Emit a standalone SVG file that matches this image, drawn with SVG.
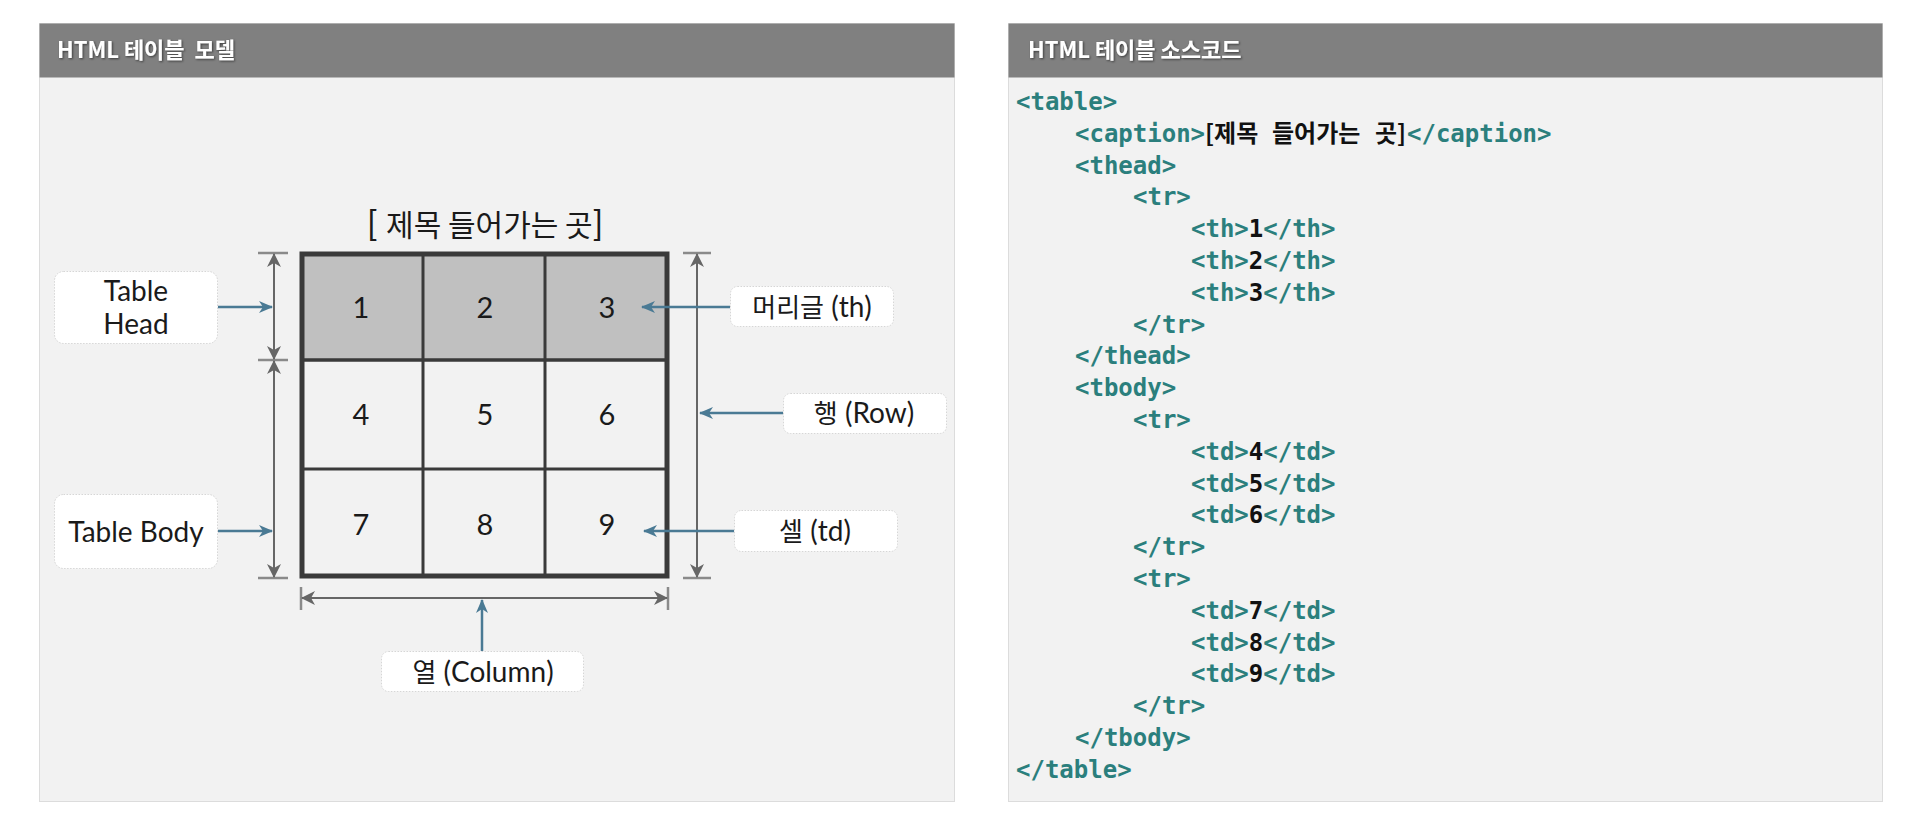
<svg xmlns="http://www.w3.org/2000/svg" width="1920" height="835" viewBox="0 0 1920 835">
<style>
.panel{fill:#f2f2f2;stroke:#dcdcdc;stroke-width:1}
.hdr{fill:#808080}
.htxt{font-family:"Noto Sans CJK KR","Noto Sans",sans-serif;font-weight:700;font-size:22px;fill:#ffffff}
.box{fill:#ffffff;stroke:#d6d6d6;stroke-width:1;stroke-dasharray:1.5 1.5}
.lbl{font-family:Lato,"Noto Sans CJK KR",sans-serif;font-size:28px;fill:#1a1a1a;text-anchor:middle}
.ko{font-family:"Noto Sans CJK KR",sans-serif;font-size:26px}
.num{font-family:Lato,"Noto Sans",sans-serif;font-size:29px;fill:#1a1a1a;text-anchor:middle}
.dim{stroke:#666666;stroke-width:2;fill:none}
.tick{stroke:#8a8a8a;stroke-width:2.5}
.blue{stroke:#4a7a94;stroke-width:2.5;fill:none}
.code{font-family:"DejaVu Sans Mono","Liberation Mono",monospace;font-weight:700;font-size:24px;fill:#2b7f7d}
.v{fill:#111111}
.cko{font-family:"Noto Sans CJK KR",sans-serif;font-weight:700;font-size:24px;fill:#111111}
</style>
<defs>
<marker id="ag" viewBox="0 0 14 14" refX="13" refY="7" markerWidth="14" markerHeight="14" markerUnits="userSpaceOnUse" orient="auto-start-reverse"><path d="M0,0 L14,7 L0,14 L4,7 z" fill="#666666"/></marker>
<marker id="ab" viewBox="0 0 14 12" refX="13" refY="6" markerWidth="14" markerHeight="12" markerUnits="userSpaceOnUse" orient="auto"><path d="M0,0 L14,6 L0,12 L4,6 z" fill="#4a7a94"/></marker>
<filter id="sh" x="-5%" y="-20%" width="110%" height="150%"><feDropShadow dx="1" dy="1" stdDeviation="0.8" flood-color="#000000" flood-opacity="0.55"/></filter>
</defs>

<g id="panel-model">
<rect class="panel" x="39.5" y="23.5" width="915" height="778"/>
<rect class="hdr" x="39.5" y="23.5" width="915" height="54"/>
<text class="htxt" x="57" y="58" filter="url(#sh)" xml:space="preserve">HTML 테이블  모델</text>
</g>

<g id="panel-code">
<rect class="panel" x="1008.5" y="23.5" width="874" height="778"/>
<rect class="hdr" x="1008.5" y="23.5" width="874" height="54"/>
<text class="htxt" x="1028" y="58" filter="url(#sh)">HTML 테이블 소스코드</text>
</g>

<g id="caption">
<text class="lbl" x="485" y="236" style="font-size:34px">[ <tspan style="font-family:'Noto Sans CJK KR',sans-serif;font-size:30px">제목 들어가는 곳</tspan>]</text>
</g>

<g id="table">
<rect x="302" y="254" width="365" height="106" fill="#c0c0c0"/>
<line x1="302" y1="360" x2="667" y2="360" stroke="#3a3a3a" stroke-width="3.5"/>
<line x1="302" y1="469" x2="667" y2="469" stroke="#3a3a3a" stroke-width="3"/>
<line x1="423" y1="254" x2="423" y2="576" stroke="#3a3a3a" stroke-width="3"/>
<line x1="545" y1="254" x2="545" y2="576" stroke="#3a3a3a" stroke-width="3"/>
<rect x="302" y="254" width="365" height="322" fill="none" stroke="#3a3a3a" stroke-width="5"/>
<text class="num" x="361" y="318">1</text>
<text class="num" x="485" y="318">2</text>
<text class="num" x="607" y="318">3</text>
<text class="num" x="361" y="425">4</text>
<text class="num" x="485" y="425">5</text>
<text class="num" x="607" y="425">6</text>
<text class="num" x="361" y="535">7</text>
<text class="num" x="485" y="535">8</text>
<text class="num" x="607" y="535">9</text>
</g>

<g id="label-table-head">
<rect class="box" x="54.5" y="271.5" width="163" height="72" rx="9"/>
<text class="lbl" x="136" y="301">Table</text>
<text class="lbl" x="136" y="334">Head</text>
</g>
<g id="label-table-body">
<rect class="box" x="54.5" y="494.5" width="163" height="74" rx="9"/>
<text class="lbl" x="136" y="542">Table Body</text>
</g>
<g id="label-th">
<rect class="box" x="730.5" y="286.5" width="163" height="40" rx="7"/>
<text class="lbl" x="812" y="317"><tspan class="ko">머리글</tspan> (th)</text>
</g>
<g id="label-row">
<rect class="box" x="783.5" y="393.5" width="163" height="40" rx="7"/>
<text class="lbl" x="864" y="423"><tspan class="ko">행</tspan> (Row)</text>
</g>
<g id="label-td">
<rect class="box" x="734.5" y="510.5" width="163" height="41" rx="7"/>
<text class="lbl" x="815" y="541"><tspan class="ko">셀</tspan> (td)</text>
</g>
<g id="label-column">
<rect class="box" x="381.5" y="651.5" width="202" height="40" rx="7"/>
<text class="lbl" x="483" y="682"><tspan class="ko">열</tspan> (Column)</text>
</g>

<g id="connectors">
<line class="tick" x1="258" y1="253" x2="288" y2="253"/>
<line class="tick" x1="258" y1="360" x2="288" y2="360"/>
<line class="tick" x1="258" y1="578" x2="288" y2="578"/>
<line class="dim" x1="274" y1="254" x2="274" y2="359" marker-start="url(#ag)" marker-end="url(#ag)"/>
<line class="dim" x1="274" y1="361" x2="274" y2="577" marker-start="url(#ag)" marker-end="url(#ag)"/>
<line class="tick" x1="683" y1="253" x2="711" y2="253"/>
<line class="tick" x1="683" y1="578" x2="711" y2="578"/>
<line class="dim" x1="697" y1="254" x2="697" y2="577" marker-start="url(#ag)" marker-end="url(#ag)"/>
<line class="tick" x1="301" y1="587" x2="301" y2="610"/>
<line class="tick" x1="668" y1="587" x2="668" y2="610"/>
<line class="dim" x1="302" y1="598" x2="667" y2="598" marker-start="url(#ag)" marker-end="url(#ag)"/>
<line class="blue" x1="218" y1="307" x2="272" y2="307" marker-end="url(#ab)"/>
<line class="blue" x1="218" y1="531" x2="272" y2="531" marker-end="url(#ab)"/>
<line class="blue" x1="730" y1="307" x2="642" y2="307" marker-end="url(#ab)"/>
<line class="blue" x1="783" y1="413" x2="700" y2="413" marker-end="url(#ab)"/>
<line class="blue" x1="734" y1="531" x2="644" y2="531" marker-end="url(#ab)"/>
<line class="blue" x1="482" y1="651" x2="482" y2="600" marker-end="url(#ab)"/>
</g>

<g id="code">
<text class="code" x="1016" y="110">&lt;table&gt;</text>
<text class="code" x="1075" y="141.8">&lt;caption&gt;</text>
<text class="cko"><tspan x="1205" y="141.8">[제목 </tspan><tspan x="1272" y="141.8">들어가는 </tspan><tspan x="1375" y="141.8">곳]</tspan></text>
<text class="code" x="1407" y="141.8">&lt;/caption&gt;</text>
<text class="code" x="1075" y="173.6">&lt;thead&gt;</text>
<text class="code" x="1133" y="205.4">&lt;tr&gt;</text>
<text class="code" x="1191" y="237.2">&lt;th&gt;<tspan class="v">1</tspan>&lt;/th&gt;</text>
<text class="code" x="1191" y="269">&lt;th&gt;<tspan class="v">2</tspan>&lt;/th&gt;</text>
<text class="code" x="1191" y="300.8">&lt;th&gt;<tspan class="v">3</tspan>&lt;/th&gt;</text>
<text class="code" x="1133" y="332.6">&lt;/tr&gt;</text>
<text class="code" x="1075" y="364.4">&lt;/thead&gt;</text>
<text class="code" x="1075" y="396.2">&lt;tbody&gt;</text>
<text class="code" x="1133" y="428">&lt;tr&gt;</text>
<text class="code" x="1191" y="459.8">&lt;td&gt;<tspan class="v">4</tspan>&lt;/td&gt;</text>
<text class="code" x="1191" y="491.6">&lt;td&gt;<tspan class="v">5</tspan>&lt;/td&gt;</text>
<text class="code" x="1191" y="523.4">&lt;td&gt;<tspan class="v">6</tspan>&lt;/td&gt;</text>
<text class="code" x="1133" y="555.2">&lt;/tr&gt;</text>
<text class="code" x="1133" y="587">&lt;tr&gt;</text>
<text class="code" x="1191" y="618.8">&lt;td&gt;<tspan class="v">7</tspan>&lt;/td&gt;</text>
<text class="code" x="1191" y="650.6">&lt;td&gt;<tspan class="v">8</tspan>&lt;/td&gt;</text>
<text class="code" x="1191" y="682.4">&lt;td&gt;<tspan class="v">9</tspan>&lt;/td&gt;</text>
<text class="code" x="1133" y="714.2">&lt;/tr&gt;</text>
<text class="code" x="1075" y="746">&lt;/tbody&gt;</text>
<text class="code" x="1016" y="777.8">&lt;/table&gt;</text>
</g>
</svg>
